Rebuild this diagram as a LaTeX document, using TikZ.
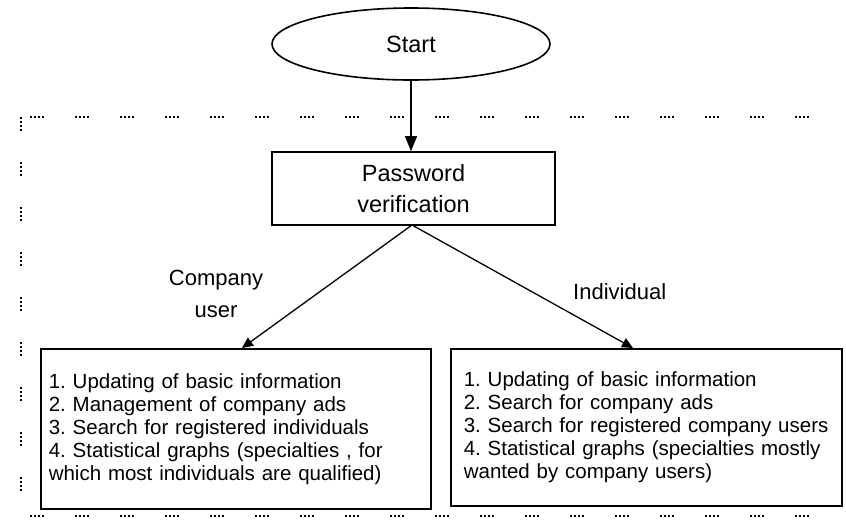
\documentclass[tikz,border=0pt]{standalone}
\usepackage{fontspec}
\setmainfont{Liberation Sans}
\usetikzlibrary{shapes.geometric,arrows.meta}
\begin{document}
\frenchspacing
\begin{tikzpicture}[x=1pt,y=-1pt,
  every node/.style={font=\fontsize{20.5}{23}\selectfont},
  boxline/.style={draw, line width=1.6pt},
  conn/.style={line width=1.3pt, -{Triangle[length=11pt,width=10pt]}},
  bigconn/.style={line width=1.3pt, -{Triangle[length=15pt,width=12pt]}},
  frame/.style={line width=1.4pt, dash pattern=on 1.5pt off 2.5pt on 1.5pt off 2.5pt on 1.5pt off 2.5pt on 1.5pt off 31.5pt},
  listbox/.style={boxline, anchor=north west, minimum height=160pt, align=left}
]
\useasboundingbox (0,0) rectangle (846,523);
\fill[white] (0,0) rectangle (846,523);

% dotted frame (open on the right)
\coordinate (ftl) at (21,117);
\coordinate (ftl2) at (30,117);
\coordinate (ftr) at (830,117);
\coordinate (fbl) at (21,516);
\coordinate (fbl2) at (30,516);
\coordinate (fbr) at (830,516);
\draw[frame] (ftl2) -- (ftr);
\draw[frame] (ftl) -- (fbl);
\draw[frame] (fbl2) -- (fbr);

\node[boxline, ellipse, minimum width=278pt, minimum height=72pt, inner sep=0pt,
      font=\fontsize{23.5}{28}\selectfont] (start) at (411,44) {Start};
\node[boxline, rectangle, minimum width=283pt, minimum height=73pt, align=center,
      font=\fontsize{23.5}{31}\selectfont] (pw) at (413.5,188.5) {Password\\verification};

\node[listbox, minimum width=390pt, text width=374pt, inner xsep=8pt] (lbox) at (40,348) {1. Updating of basic information\\
2. Management of company ads\\
3. Search for registered individuals\\
4. Statistical graphs (specialties , for\\
which most individuals are qualified)};

\node[listbox, minimum height=157pt, minimum width=391pt, text width=365pt, inner xsep=13pt] (rbox) at (450,348) {1. Updating of basic information\\
2. Search for company ads\\
3. Search for registered company users\\
4. Statistical graphs (specialties  mostly\\
wanted by company users)};

\coordinate (pwin) at (start.south |- pw.north);
\draw[bigconn] (start.south) -- (pwin);

\coordinate (apex) at (412,225);
\coordinate (ltip) at (242,348);
\coordinate (rtip) at (633,348);
\draw[conn] (apex) -- (ltip);
\draw[conn] (apex) -- (rtip);

\node[align=center, font=\fontsize{22}{32}\selectfont] (clabel) at (216,294) {Company\\user};
\node[anchor=west, inner sep=0pt, font=\fontsize{22}{26}\selectfont] (ilabel) at (573,292) {Individual};
\end{tikzpicture}
\end{document}
